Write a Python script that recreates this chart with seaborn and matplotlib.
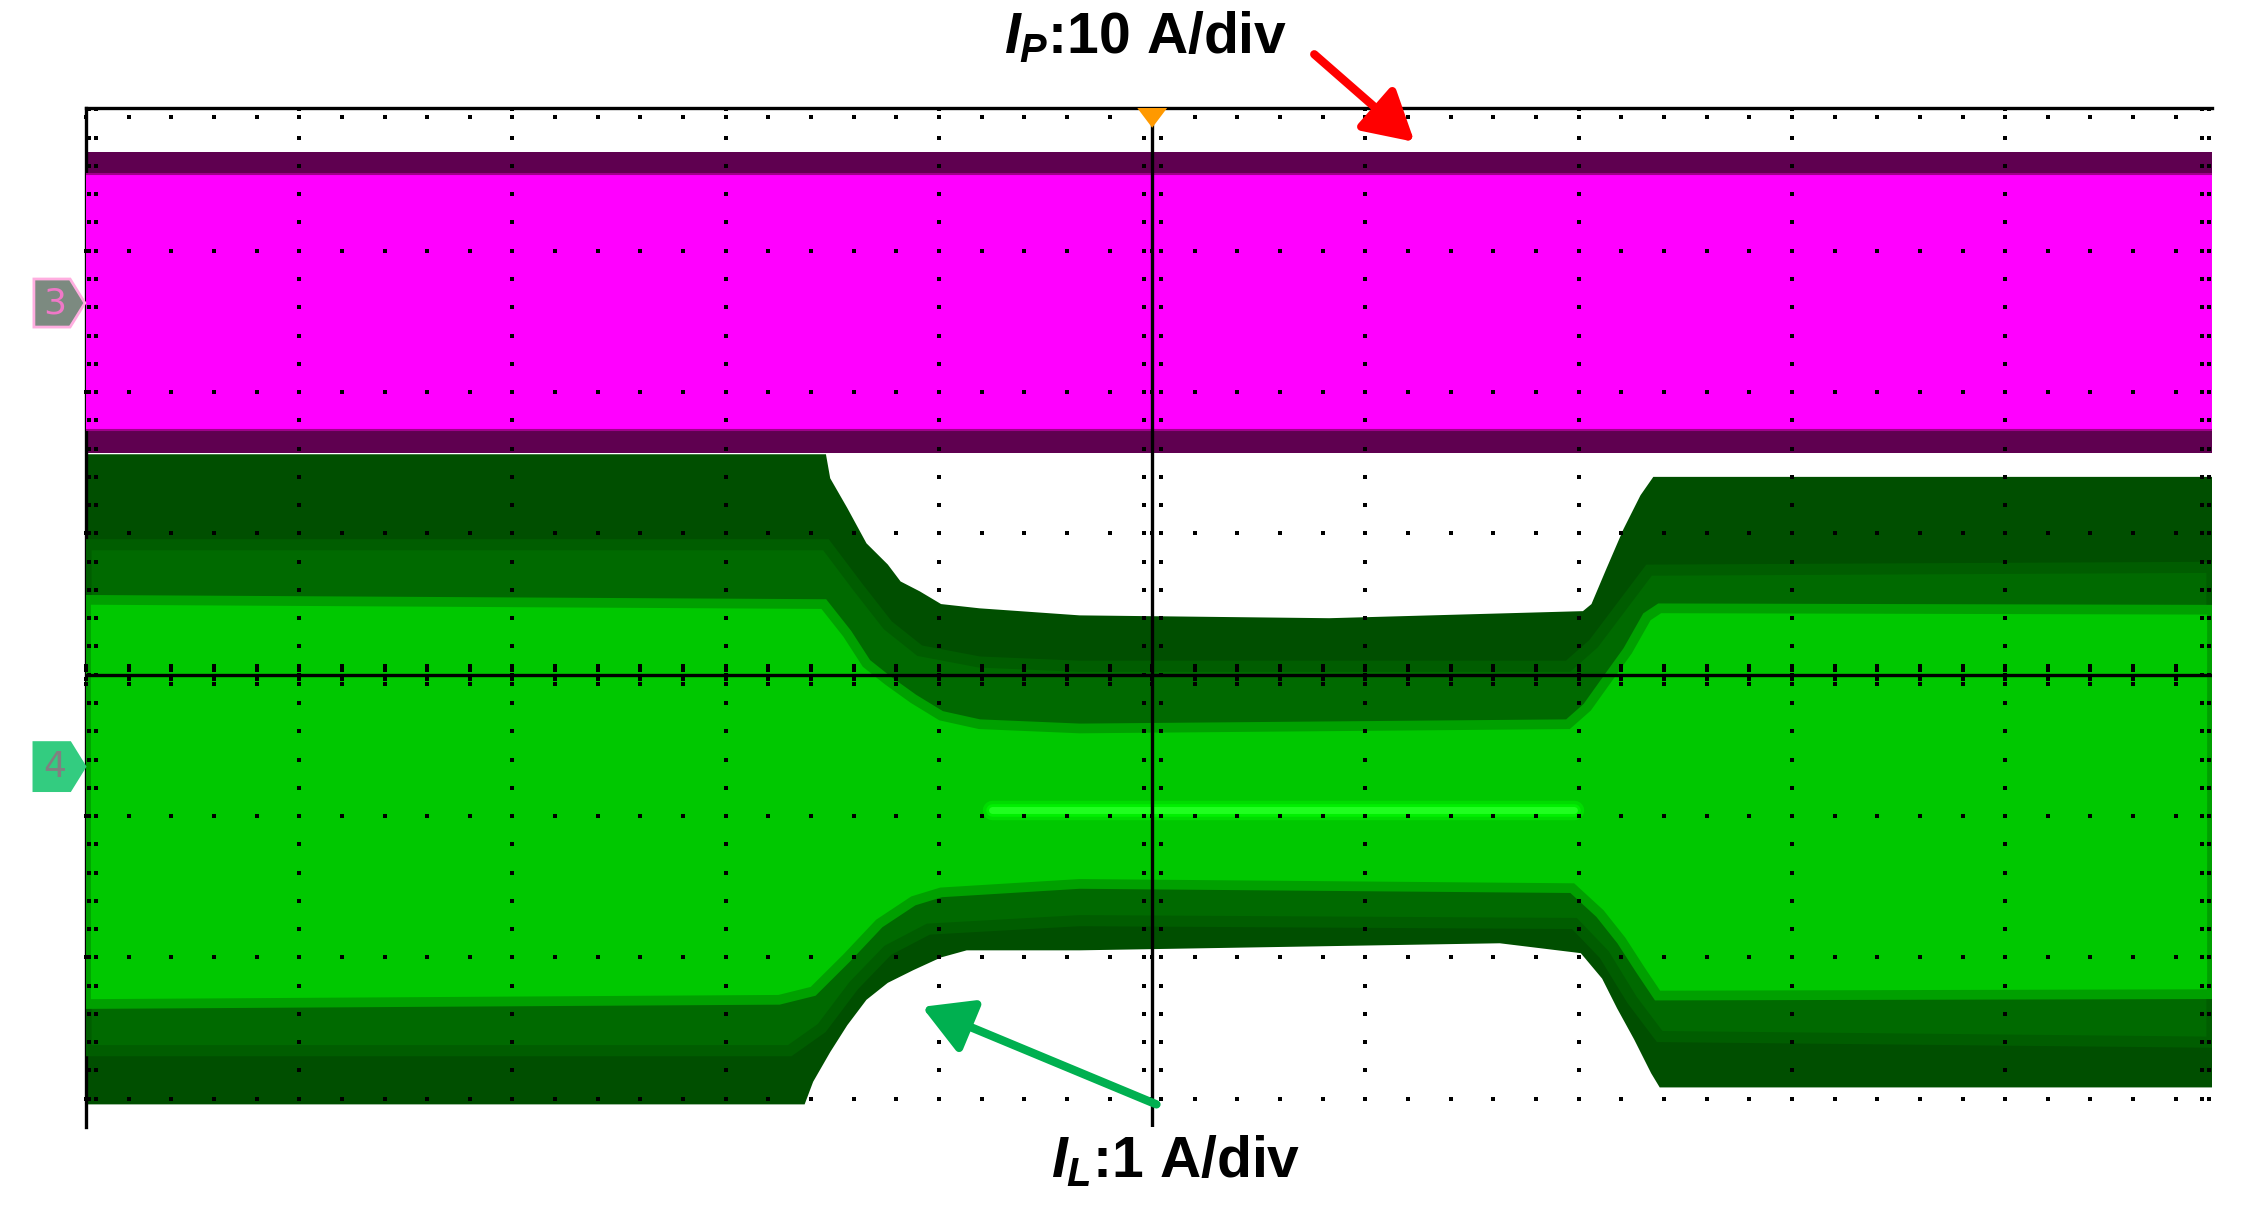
import numpy as np
import pandas as pd
import seaborn as sns
import matplotlib.pyplot as plt
from matplotlib.patches import Polygon

# values in screen divisions (x: 10 div, centre line y = 0)
# I_P (channel 3) band
ip_x = [0, 9.97]
ip_outer_top = [3.70, 3.70]
ip_inner_top = [3.54, 3.54]
ip_inner_bot = [1.73, 1.73]
ip_outer_bot = [1.57, 1.57]

# I_L (channel 4) envelope, outer edges
il_top_x = [0, 3.47, 3.49, 3.57, 3.66, 3.76, 3.82, 3.91, 4.01, 4.19, 4.66, 5.83,
            7.02, 7.06, 7.13, 7.21, 7.29, 7.35, 9.97]
il_top_y = [1.56, 1.56, 1.39, 1.18, 0.93, 0.78, 0.66, 0.59, 0.50, 0.47, 0.42, 0.40,
            0.45, 0.50, 0.75, 1.03, 1.27, 1.40, 1.40]
il_bot_x = [0, 3.37, 3.41, 3.49, 3.57, 3.66, 3.76, 3.88, 4.01, 4.13, 4.66, 6.63,
            7.01, 7.11, 7.18, 7.26, 7.34, 7.38, 9.97]
il_bot_y = [-3.04, -3.04, -2.88, -2.67, -2.48, -2.30, -2.18, -2.09, -2.00, -1.95, -1.95, -1.90,
            -1.97, -2.15, -2.36, -2.58, -2.82, -2.92, -2.92]

# I_L intermediate intensity band
il_mid_top_x = [0, 3.47, 3.62, 3.76, 3.91, 4.19, 4.66, 6.95, 7.07, 7.20, 7.33, 9.97]
il_mid_top_y = [0.92, 0.92, 0.62, 0.35, 0.17, 0.09, 0.06, 0.06, 0.22, 0.48, 0.74, 0.76]
il_mid_bot_x = [0, 3.30, 3.45, 3.60, 3.76, 3.95, 4.66, 6.98, 7.12, 7.25, 7.38, 9.97]
il_mid_bot_y = [-2.66, -2.66, -2.50, -2.20, -1.95, -1.80, -1.74, -1.76, -1.98, -2.30, -2.56, -2.60]

# I_L bright core
il_core_top_x = [0, 3.46, 3.57, 3.66, 3.76, 3.88, 4.01, 4.19, 4.66, 6.95, 7.04, 7.13,
                 7.23, 7.32, 7.38, 9.97]
il_core_top_y = [0.53, 0.50, 0.29, 0.08, -0.04, -0.17, -0.29, -0.35, -0.38, -0.35, -0.23, -0.04,
                 0.17, 0.41, 0.47, 0.46]
il_core_bot_x = [0, 3.25, 3.41, 3.57, 3.72, 3.88, 4.01, 4.66, 6.97, 7.10, 7.20, 7.29, 7.37, 9.97]
il_core_bot_y = [-2.33, -2.30, -2.24, -2.00, -1.76, -1.60, -1.54, -1.48, -1.51, -1.69, -1.88,
                 -2.09, -2.27, -2.26]

# brightest trace line during the reduced-ripple interval
hot_x = [4.25, 6.98]
hot_y = [-0.96, -0.96]

ch3_level = 2.63
ch4_level = -0.65

sns.set_theme(style="white")
plt.rcParams['font.family'] = ['Liberation Sans', 'DejaVu Sans']
plt.rcParams['mathtext.fontset'] = 'custom'
plt.rcParams['mathtext.it'] = 'Liberation Sans:italic:bold'
plt.rcParams['mathtext.rm'] = 'Liberation Sans:bold'
plt.rcParams['mathtext.bf'] = 'Liberation Sans:bold'

W, H = 2243, 1210
fig = plt.figure(figsize=(W / 100, H / 100), dpi=100)
ax = fig.add_axes([86 / W, 1 - 1127 / H, (2212 - 86) / W, (1127 - 108) / H])
ax.set_xlim(0, 9.97)
ax.set_ylim(-3.20, 4.01)
ax.set_xticks([])
ax.set_yticks([])
for s in ['right', 'bottom']:
    ax.spines[s].set_visible(False)
for s in ['left', 'top']:
    ax.spines[s].set_color('black')
    ax.spines[s].set_linewidth(2.4)

# channel 3 band
ax.fill_between(ip_x, ip_outer_bot, ip_outer_top, color='#5f0050', lw=0, zorder=2)
ax.fill_between(ip_x, ip_inner_bot, ip_inner_top, color='#ff00ff', lw=0, zorder=3)
ax.plot(ip_x, ip_inner_top, color='#a0008c', lw=1.5, zorder=3)
ax.plot(ip_x, ip_inner_bot, color='#a0008c', lw=1.5, zorder=3)


def band(xt, yt, xb, yb, color, z, edge=None, elw=0):
    xs = list(xt) + list(xb)[::-1]
    ys = list(yt) + list(yb)[::-1]
    ax.fill(xs, ys, color=color, lw=elw, edgecolor=edge if edge else color, zorder=z)


band(il_top_x, il_top_y, il_bot_x, il_bot_y, '#004f00', 2)
band(il_mid_top_x, il_mid_top_y, il_mid_bot_x, il_mid_bot_y, '#006a00', 3,
     edge='#005d00', elw=8)
band(il_core_top_x, il_core_top_y, il_core_bot_x, il_core_bot_y, '#00c800', 4,
     edge='#00a000', elw=7)

hot = pd.DataFrame({'x': hot_x, 'y': hot_y})
sns.lineplot(data=hot, x='x', y='y', ax=ax, color='#00dc00', lw=14, zorder=5)
sns.lineplot(data=hot, x='x', y='y', ax=ax, color='#00f000', lw=9, zorder=5)
sns.lineplot(data=hot, x='x', y='y', ax=ax, color='#20ff20', lw=5, zorder=5)

# graticule
mx = np.arange(0, 50) * 0.2
my = np.arange(-15, 21) * 0.2
dot = dict(marker='s', s=5, c='black', linewidths=0, zorder=8, clip_on=False)
for gy in [-3, -2, -1, 1, 2, 3]:
    ax.scatter(mx, np.full(mx.size, gy), **dot)
for gx in [1, 2, 3, 4, 6, 7, 8, 9]:
    ax.scatter(np.full(my.size, gx), my, **dot)
ax.scatter(mx, np.full(mx.size, 3.945), **dot)
for off in [0.012, 0.045]:
    ax.scatter(np.full(my.size, off), my, **dot)
    ax.scatter(np.full(my.size, 9.97 - off), my, **dot)
for off in [-0.04, 0.04]:
    ax.scatter(np.full(my.size, 5 + off), my, **dot)
for off in [-0.065, -0.03, 0.03, 0.065]:
    ax.scatter(mx, np.full(mx.size, off), **dot)
ax.axhline(0, color='black', lw=2.4, zorder=9)
ax.axvline(5, color='black', lw=2.4, zorder=9)

# trigger marker
ax.add_patch(Polygon([(4.93, 4.01), (5.07, 4.01), (5.0, 3.87)], closed=True,
                     color='#ff9900', lw=0, zorder=10, clip_on=False))

# channel markers
tr = ax.get_yaxis_transform()
for lvl, face, edge, tcol, lab in [(ch3_level, '#7c8a80', '#ffaee0', '#f078c8', '3'),
                                   (ch4_level, '#33cc80', '#33cc80', '#808080', '4')]:
    ax.add_patch(Polygon([(-0.0245, lvl + 0.17), (-0.0075, lvl + 0.17), (-0.0005, lvl),
                          (-0.0075, lvl - 0.17), (-0.0245, lvl - 0.17)], closed=True,
                         transform=tr, facecolor=face, edgecolor=edge, lw=2,
                         clip_on=False, zorder=10))
    ax.text(-0.0148, lvl, lab, transform=tr, ha='center', va='center', fontsize=26,
            color=tcol, family='DejaVu Sans', clip_on=False, zorder=11)

# labels and arrows
fig.text(1146 / W, 1 - 53 / H, r'$I_P$:10 A/div', ha='center', va='baseline',
         fontsize=41, fontweight='bold', color='black')
fig.text(1176 / W, 1 - 1177 / H, r'$I_L$:1 A/div', ha='center', va='baseline',
         fontsize=41, fontweight='bold', color='black')

ax.annotate('', xy=(6.23, 3.77), xytext=(5.76, 4.39), annotation_clip=False,
            arrowprops=dict(arrowstyle='-|>,head_length=1.5,head_width=0.85',
                            mutation_scale=20, color='#ff0000', lw=6,
                            shrinkA=0, shrinkB=0), zorder=12)
ax.annotate('', xy=(3.92, -2.35), xytext=(5.02, -3.04), annotation_clip=False,
            arrowprops=dict(arrowstyle='-|>,head_length=1.5,head_width=0.85',
                            mutation_scale=20, color='#00b050', lw=6,
                            shrinkA=0, shrinkB=0), zorder=12)

fig.savefig('out.png', dpi=100, facecolor='white')
